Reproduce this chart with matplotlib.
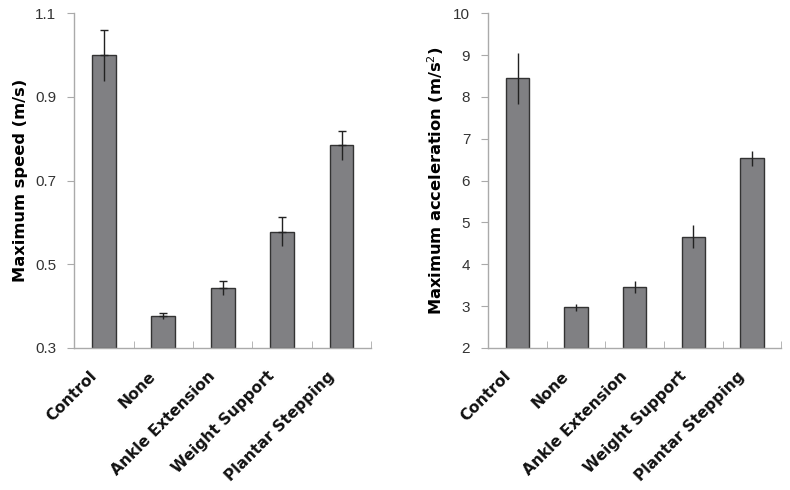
import matplotlib.pyplot as plt
import matplotlib.transforms as mtransforms
import numpy as np

categories = ['Control', 'None', 'Ankle Extension', 'Weight Support', 'Plantar Stepping']

speed = [0.999, 0.377, 0.444, 0.578, 0.784]
speed_err = [0.062, 0.007, 0.017, 0.035, 0.034]

accel = [8.44, 2.97, 3.46, 4.66, 6.53]
accel_err = [0.60, 0.08, 0.15, 0.28, 0.17]

plt.rcParams['font.family'] = ['Liberation Sans', 'DejaVu Sans']

fig = plt.figure(figsize=(7.9, 4.9), dpi=100)
ax1 = fig.add_axes([0.094, 0.290, 0.376, 0.683])
ax2 = fig.add_axes([0.618, 0.290, 0.371, 0.683])

x = np.arange(len(categories))


def draw(ax, vals, errs, ylim, yticks, ylabel, caps):
    ax.bar(x, [v - ylim[0] for v in vals], bottom=ylim[0], width=0.4,
           color='#808083', edgecolor='#333333', linewidth=1.0, zorder=2)
    # upper half of the error bar (with cap on left chart), lower half without cap
    ax.errorbar(x, vals, yerr=[np.zeros(len(vals)), errs], fmt='none',
                ecolor='#222222', elinewidth=1.0, capsize=caps, capthick=1.0, zorder=3)
    ax.errorbar(x, vals, yerr=[errs, np.zeros(len(vals))], fmt='none',
                ecolor='#222222', elinewidth=1.0, capsize=0, zorder=3)
    ax.set_xlim(-0.5, 4.5)
    ax.set_ylim(*ylim)
    ax.set_yticks(yticks)
    ax.set_yticklabels([str(t) for t in yticks])
    for s in ['top', 'right']:
        ax.spines[s].set_visible(False)
    for s in ['left', 'bottom']:
        ax.spines[s].set_color('#aaaaaa')
        ax.spines[s].set_linewidth(1.0)
    ax.tick_params(axis='y', direction='out', length=5, color='#aaaaaa',
                   labelsize=11, labelcolor='#333333', pad=8)
    ax.set_xticks(x)
    ax.set_xticklabels(categories, rotation=45, ha='right', va='top',
                       rotation_mode='anchor', fontsize=11.2, fontweight='bold',
                       family='DejaVu Sans', color='#111111')
    ax.tick_params(axis='x', length=0, pad=4)
    ax.set_xticks(x + 0.5, minor=True)
    ax.tick_params(axis='x', which='minor', direction='in', length=5, color='#aaaaaa')
    offset = mtransforms.ScaledTranslation(-15 / 100, -15 / 100, fig.dpi_scale_trans)
    for lab in ax.get_xticklabels():
        lab.set_transform(lab.get_transform() + offset)
    ax.set_ylabel(ylabel, fontsize=11.7, fontweight='bold', family='DejaVu Sans',
                  labelpad=5)


draw(ax1, speed, speed_err, (0.3, 1.1), [0.3, 0.5, 0.7, 0.9, 1.1],
     'Maximum speed (m/s)', 3)
draw(ax2, accel, accel_err, (2, 10), [2, 3, 4, 5, 6, 7, 8, 9, 10],
     'Maximum acceleration (m/s$^{2}$)', 0)

fig.savefig('out.png', dpi=100)
